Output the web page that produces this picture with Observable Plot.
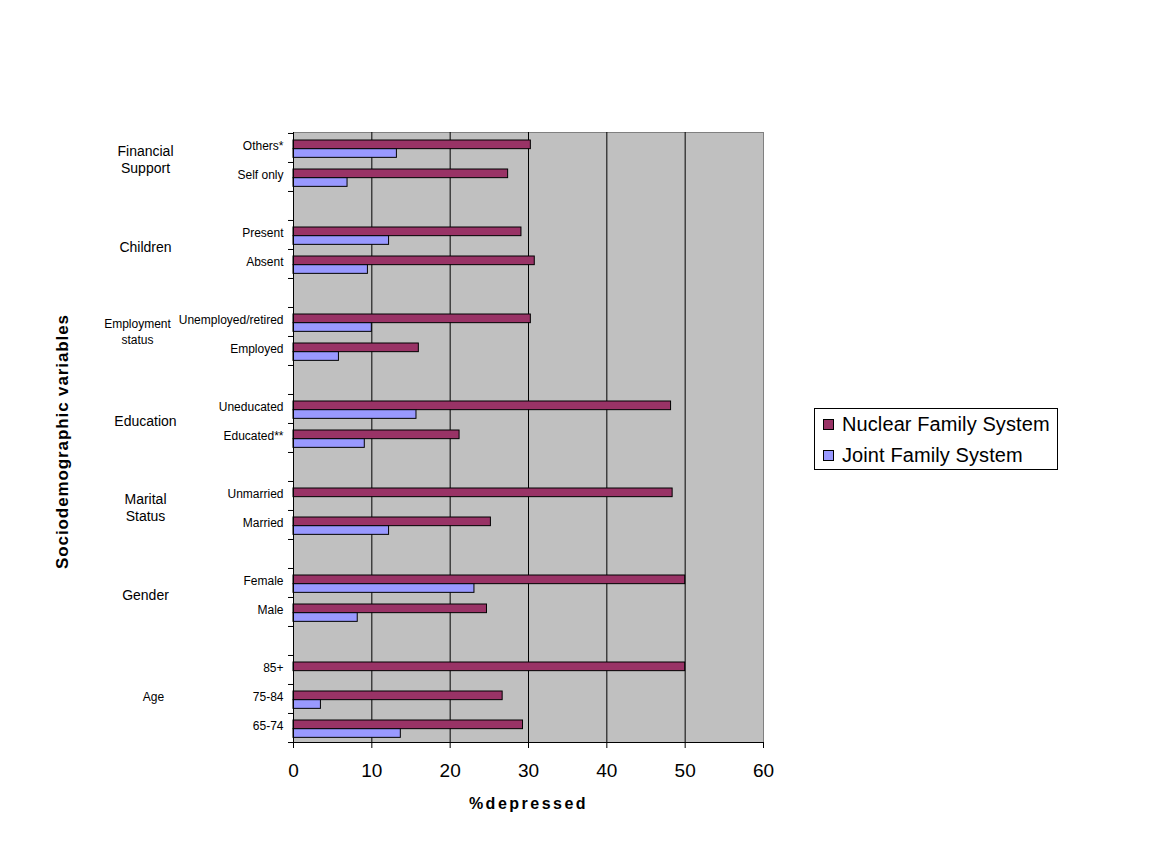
<!DOCTYPE html>
<html>
<head>
<meta charset="utf-8">
<script src="https://cdn.jsdelivr.net/npm/d3@7"></script>
<script src="https://cdn.jsdelivr.net/npm/@observablehq/plot@0.6"></script>
<style>
  body { margin: 0; background: white; font-family: Arial, "Liberation Sans", sans-serif; }
  #wrap { position: relative; width: 1152px; height: 864px; }
  #legend { position: absolute; left: 814px; top: 408px; width: 242px; height: 60px;
            border: 1px solid black; background: white; font-size: 20px; letter-spacing: 0.1px; color: black; }
  .item { position: absolute; left: 8px; display: flex; align-items: center; white-space: nowrap; }
  .sw { width: 9px; height: 9px; border: 1px solid black; margin-right: 8px; }
</style>
</head>
<body>
<div id="wrap"></div>
<script>
const groups = ["Financial\nSupport", "Children", "Employment\nstatus", "Education", "Marital\nStatus", "Gender", "Age"];
const categories = ["Others*", "Self only", "Present", "Absent", "Unemployed/retired", "Employed",
  "Uneducated", "Educated**", "Unmarried", "Married", "Female", "Male", "85+", "75-84", "65-74"];
const categoryGroup = [0, 0, 1, 1, 2, 2, 3, 3, 4, 4, 5, 5, 6, 6, 6];
const nuclear = [30.3, 27.4, 29.1, 30.8, 30.3, 16.0, 48.2, 21.2, 48.4, 25.2, 50.0, 24.7, 50.0, 26.7, 29.3];
const joint = [13.2, 6.9, 12.2, 9.5, 10.0, 5.8, 15.7, 9.1, 0, 12.2, 23.1, 8.2, 0, 3.5, 13.7];
const series = ["Nuclear Family System", "Joint Family System"];
const colors = ["#993366", "#9999FF"];
const xTicks = [0, 10, 20, 30, 40, 50, 60];

// slot domain: categories with a blank slot between groups
const slots = [];
groups.forEach((g, gi) => {
  if (gi > 0) slots.push("gap" + gi);
  categories.forEach((c, i) => { if (categoryGroup[i] === gi) slots.push(c); });
});

const rows = categories.map((c, i) => ({category: c, nuclear: nuclear[i], joint: joint[i]}));
const groupRows = groups.map((g, gi) => {
  const cats = categories.filter((c, i) => categoryGroup[i] === gi);
  return {name: g, n: cats.length, anchor: cats[1]};
});

const W = 1152, H = 864, mL = 293, mR = 389, mT = 132, mB = 122;
const band = (H - mT - mB) / slots.length;
const barH = 8.7, topGap = 7;

const svg = Plot.plot({
  width: W, height: H,
  marginLeft: mL, marginRight: mR, marginTop: mT, marginBottom: mB,
  style: {fontFamily: "Arial, 'Liberation Sans', sans-serif", fontSize: "11px", background: "white", color: "black"},
  x: {domain: [0, 60]},
  y: {type: "band", domain: slots, padding: 0},
  marks: [
    Plot.frame({fill: "#C0C0C0", stroke: "#808080"}),
    Plot.ruleX(xTicks.filter(t => t > 0 && t < 60), {stroke: "black"}),
    Plot.barX(rows, {x: "nuclear", y: "category", fill: colors[0], stroke: "black", strokeWidth: 1,
      insetTop: topGap, insetBottom: band - topGap - barH}),
    Plot.barX(rows.filter(d => d.joint > 0), {x: "joint", y: "category", fill: colors[1], stroke: "black", strokeWidth: 1,
      insetTop: topGap + barH, insetBottom: band - topGap - 2 * barH}),
    Plot.ruleX([0], {stroke: "black"}),
    Plot.frame({anchor: "bottom", stroke: "black"}),
    Plot.axisY({tickSize: 0, tickPadding: 10, fontSize: 12, label: null, dy: -2,
      tickFormat: d => d.startsWith("gap") ? "" : d}),
    Plot.axisY({tickSize: 5, tickFormat: () => "", dy: -band / 2, label: null}),
    Plot.axisY([slots[slots.length - 1]], {tickSize: 5, tickFormat: () => "", dy: band / 2, label: null}),
    Plot.axisX({ticks: xTicks, tickSize: 6, tickPadding: 15, fontSize: 19, label: null}),
    // group labels
    Plot.text(groupRows.filter(d => d.n === 2 && !d.name.startsWith("Employment")), {
      y: "anchor", text: "name", frameAnchor: "left", dx: -148, dy: -band / 2 - 3.5,
      textAnchor: "middle", fontSize: 14, lineHeight: 1.25}),
    Plot.text(groupRows.filter(d => d.name.startsWith("Employment")), {
      y: "anchor", text: "name", frameAnchor: "left", dx: -156, dy: -band / 2 - 6,
      textAnchor: "middle", fontSize: 12, lineHeight: 1.35}),
    Plot.text(groupRows.filter(d => d.n === 3), {
      y: "anchor", text: "name", frameAnchor: "left", dx: -140, dy: -2,
      textAnchor: "middle", fontSize: 12}),
    // axis titles
    Plot.text(["Sociodemographic variables"], {frameAnchor: "left", dx: -231, dy: 4, rotate: -90,
      fontSize: 17, fontWeight: "bold", textAnchor: "middle"}),
    Plot.text(["%depressed"], {frameAnchor: "bottom", dy: 66, fontSize: 16, fontWeight: "bold",
      textAnchor: "middle"})
  ]
});
d3.select(svg).selectAll("text")
  .filter(function() { return this.textContent === "%depressed"; })
  .attr("letter-spacing", "2.5px");
d3.select(svg).selectAll("text")
  .filter(function() { return this.textContent === "Sociodemographic variables"; })
  .attr("letter-spacing", "0.9px");

const wrap = document.getElementById("wrap");
wrap.appendChild(svg);
const legend = document.createElement("div");
legend.id = "legend";
series.forEach((s, i) => {
  const it = document.createElement("div");
  it.className = "item";
  it.style.top = (i === 0 ? 4 : 35) + "px";
  const sw = document.createElement("div");
  sw.className = "sw";
  sw.style.background = colors[i];
  const t = document.createElement("span");
  t.textContent = s;
  it.appendChild(sw); it.appendChild(t);
  legend.appendChild(it);
});
wrap.appendChild(legend);
</script>
</body>
</html>
